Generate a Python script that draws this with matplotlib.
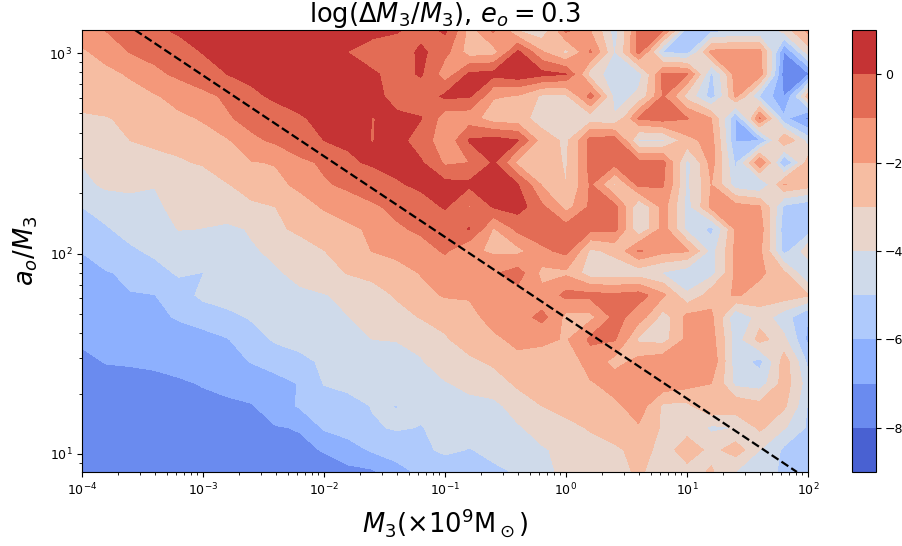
import numpy as np
import matplotlib
matplotlib.use("Agg")
import matplotlib.pyplot as plt

levels = [-9,-8,-7,-6,-5,-4,-3,-2,-1,0,1]
cbar_ticks = [-8,-6,-4,-2,0]
title = r"$\log(\Delta M_3/M_3),\, e_o=0.3$"
xlabel = r"$M_3(\times 10^9\mathrm{M}_\odot)$"
ylabel = r"$a_o/M_3$"
line_m = [2.74e-4, 81.0]
line_a = [1303.0, 8.13]
m_exp = np.linspace(-4, 2, 31)
a_exp = np.linspace(3.115, 0.91, 21)

row00 = [-1.6,-.95,-.6,-.15,.15,.35,.5,.6,.7,.8,.8,.6,.3,.1,-.4, .2,-2.4,-.8,-3.1,-3.8,-.7,-2.0,-4.5,-.6,-.8,-5.5,-5.5,-5.1,-5.1,-3.5,-1.7]
row01 = [-2.1,-1.7,-.95,-.7,-.4,.05,.3,.5,.7,.8,.7,-.02,-.4,-.5,.2, -.7,-2.6,-2.4,.2,-1.9,-3.3,-.9,-4.1,-.7,-5.05,-5.4,-1.7,-1.6,-1.6,-7.05,-3.5]
row02 = [-2.4,-2.2,-1.9,-1.2,-.8,-.5,0.0,.25,.5,.7,.8,.5,.1,-.3,.1, -1.6,.2,.3,.7,.3,.02,-3.5,-4.6,-4.4,-.8,-.9,-5.2,-1.5,-1.5,-7.6,-7.2]
row03 = [-2.7,-2.5,-2.3,-2.1,-1.6,-1.2,-.85,-.2,.2,.4,.6,.7,.3,-.4,-.6, .2,.1,-1.9,-2.1,-3.2,-3.2,-.6,-4.4,-3.8,-.9,-3.4,-5.5,-1.8,-5.1,-7.05,-2.5]
row04 = [-3.1,-3.05,-2.8,-2.6,-2.2,-1.9,-1.1,-.65,-.5,-.1,.3,.6,-.02,.2,.05, -1.6,-1.6,-2.6,-2.7,-3.4,-3.7,-3.6,-3.9,-.9,-.5,-.95,-2.0,-6.05,-.9,-5.8,-7.3]
row05 = [-3.3,-3.15,-3.0,-2.8,-2.7,-2.4,-2.1,-1.2,-.8,-.35,0.0,.15,-.02,.3,-.5, -1.7,.1,.4,.05,-2.6,-3.2,-.6,-.5,-4.2,-4.2,-2.3,-1.6,-6.05,-6.05,-2.0,-4.5]
row06 = [-3.95,-3.7,-3.5,-3.3,-3.1,-2.9,-2.4,-2.05,-1.95,-1.2,-.85,-.15,.15,.3,.1, -1.2,-1.0,.1,-2.3,-2.6,-3.1,-.6,-.6,-.7,-.7,-4.3,-1.6,-5.2,-1.0,-6.1,-2.5]
row07 = [-4.3,-3.75,-3.7,-3.98,-3.95,-3.5,-3.05,-2.6,-2.2,-1.8,-1.1,-.8,-.6,-.1,.2, .3,.2,.5,.05,-2.1,-3.0,-.9,-3.2,-.7,-.9,-4.2,-2.0,-4.6,-5.05,-1.95,-2.5]
row08 = [-5.0,-4.75,-4.45,-4.1,-3.8,-3.6,-3.35,-3.15,-3.0,-2.35,-1.9,-1.45,-1.1,-.8,-.4, .1,-1.1,.1,.4,-.8,-2.4,-.8,-.7,-3.9,-1.6,-4.4,-1.7,-1.6,-1.9,-5.2,-5.7]
row09 = [-5.5,-5.05,-4.75,-4.5,-3.95,-4.02,-4.2,-3.9,-3.15,-2.8,-2.45,-2.2,-1.8,-1.1,-.85, -.6,.05,-2.1,-.7,-.4,-.6,-.7,-.7,-3.9,-1.6,-4.3,-5.3,-1.8,-1.5,-5.6,-5.7]
row10 = [-5.98,-5.55,-5.1,-4.85,-4.7,-4.55,-4.35,-4.1,-3.8,-3.4,-3.02,-2.5,-1.97,-1.7,-1.3, -.9,-1.8,-2.2,-2.3,-1.2,-.7,-3.2,-2.7,-.9,-1.7,-1.9,-4.4,-1.8,-1.8,-5.4,-3.3]
row11 = [-6.2,-6.05,-5.85,-5.25,-4.9,-5.02,-4.6,-4.35,-4.1,-3.75,-3.3,-2.95,-2.75,-2.4,-1.95, -1.5,-1.3,-1.1,-.6,-2.3,-2.2,-3.6,-3.7,-3.6,-4.1,-4.6,-4.4,-1.8,-1.8,-2.8,-5.1]
row12 = [-6.35,-6.25,-6.03,-6.02,-5.4,-4.75,-4.55,-4.4,-4.25,-4.15,-4.05,-3.75,-3.35,-2.9,-2.3, -1.9,-1.9,-1.5,-1.3,-1.7,-.7,-.7,-.8,-.6,-1.8,-3.9,-2.4,-1.9,-2.4,-2.4,-2.9]
row13 = [-6.5,-6.4,-6.3,-6.2,-5.9,-5.6,-5.25,-4.9,-4.65,-4.45,-4.25,-4.02,-3.7,-3.3,-2.95, -2.7,-2.3,-1.6,-1.4,-.7,-2.3,-2.3,-.7,-1.5,-3.5,-1.7,-1.8,-4.9,-3.5,-4.6,-6.0]
row14 = [-6.85,-6.7,-6.65,-6.6,-6.45,-6.3,-6.05,-5.4,-4.85,-4.7,-4.45,-4.2,-4.0,-3.97,-3.8, -3.1,-2.5,-2.2,-1.7,-1.8,-2.1,-.8,-.9,-3.2,-3.4,-1.7,-1.6,-4.5,-2.6,-3.8,-6.3]
row15 = [-7.2,-6.95,-6.9,-6.85,-6.7,-6.5,-6.3,-5.95,-5.6,-5.2,-4.85,-4.6,-4.4,-4.25,-4.05, -3.6,-3.2,-2.8,-2.3,-2.4,-2.6,-1.5,-2.3,-1.7,-1.4,-1.4,-1.3,-4.6,-5.3,-2.5,-5.3]
row16 = [-7.4,-7.35,-7.3,-7.2,-7.1,-6.95,-6.75,-6.55,-6.3,-5.95,-4.95,-4.75,-4.55,-4.4,-4.25, -4.05,-3.8,-3.5,-2.8,-2.5,-2.3,-2.1,-1.6,-1.3,-1.2,-1.6,-2.0,-4.3,-4.5,-2.5,-4.6]
row17 = [-7.6,-7.55,-7.5,-7.4,-7.3,-7.2,-7.15,-7.05,-6.5,-5.85,-5.55,-5.3,-4.95,-5.02,-4.7, -4.4,-4.2,-4.2,-3.6,-3.0,-2.6,-2.3,-2.2,-1.5,-3.2,-3.2,-2.0,-2.3,-2.7,-2.8,-5.1]
row18 = [-7.7,-7.7,-7.6,-7.5,-7.4,-7.35,-7.25,-7.15,-7.05,-6.95,-5.85,-5.55,-5.1,-4.9,-5.05, -4.6,-4.5,-4.3,-4.1,-3.6,-3.3,-2.9,-2.4,-2.1,-3.2,-3.4,-4.2,-4.0,-2.8,-3.9,-5.2]
row19 = [-7.8,-7.8,-7.7,-7.7,-7.6,-7.6,-7.5,-7.4,-7.3,-7.15,-6.95,-6.4,-5.85,-5.6,-5.2, -4.8,-5.05,-4.7,-4.4,-4.1,-3.7,-3.4,-3.2,-2.6,-3.4,-2.5,-3.3,-2.5,-4.0,-5.2,-5.4]
row20 = [-7.9,-7.85,-7.8,-7.75,-7.7,-7.65,-7.6,-7.5,-7.45,-7.4,-7.3,-7.25,-7.15,-6.3,-5.8, -5.6,-5.4,-5.2,-4.9,-4.3,-3.7,-3.4,-3.2,-2.9,-3.4,-3.3,-2.9,-4.0,-4.6,-5.2,-5.3]

Z = np.array([row00,row01,row02,row03,row04,row05,row06,row07,row08,row09,row10,
              row11,row12,row13,row14,row15,row16,row17,row18,row19,row20])
M = 10.0**m_exp
A = 10.0**a_exp

W, H = 902, 546
fig = plt.figure(figsize=(W/100, H/100), dpi=100)
ax = fig.add_axes([82/W, 1-472/H, (808-82)/W, (472-30)/H])
cs = ax.contourf(M, A, Z, levels=levels, cmap="coolwarm")
ax.plot(line_m, line_a, "k--", lw=1.6)
ax.set_xscale("log")
ax.set_yscale("log")
ax.set_xlim(M.min(), M.max())
ax.set_ylim(A.min(), A.max())
ax.tick_params(labelsize=9)
ax.set_title(title, fontsize=18.5, pad=2)
ax.set_xlabel(xlabel, fontsize=18.5, labelpad=6)
ax.set_ylabel(ylabel, fontsize=18.5, labelpad=7)
cax = fig.add_axes([852/W, 1-472/H, 24/W, (472-30)/H])
cb = fig.colorbar(cs, cax=cax, ticks=cbar_ticks)
cb.ax.tick_params(labelsize=9, pad=3)
fig.savefig("out.png", dpi=100)
